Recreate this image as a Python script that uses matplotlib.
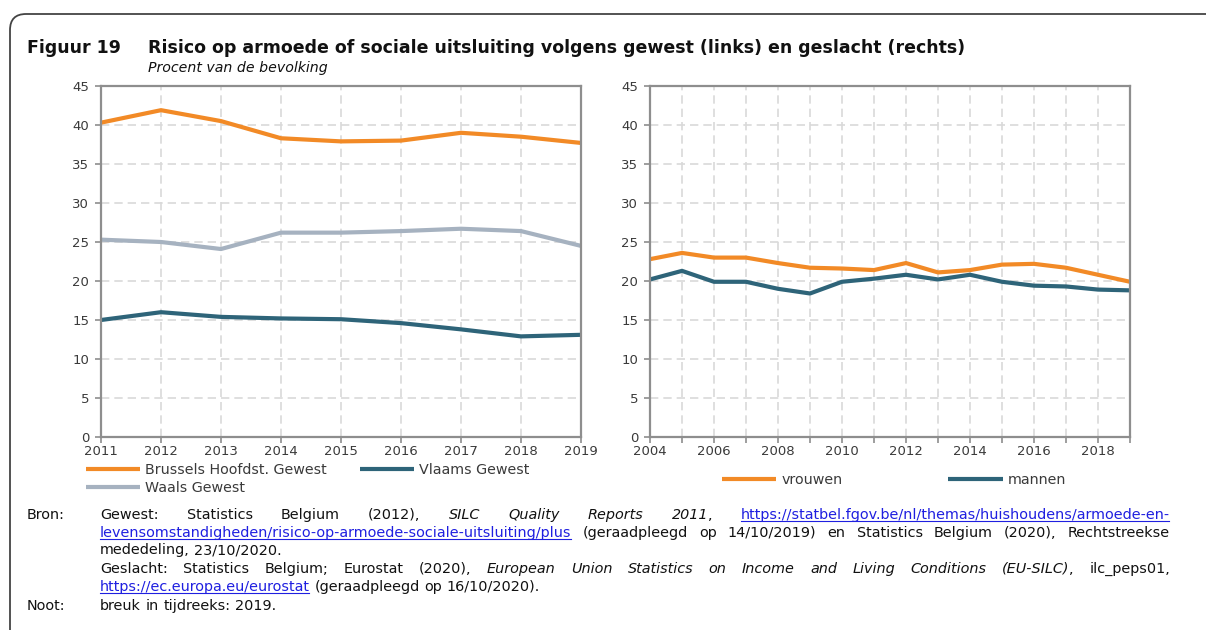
import matplotlib
matplotlib.use('Agg')
import matplotlib.pyplot as plt
from matplotlib.lines import Line2D
from matplotlib.patches import FancyBboxPatch
from matplotlib.transforms import IdentityTransform

# data
years_gewest = [2011, 2012, 2013, 2014, 2015, 2016, 2017, 2018, 2019]
brussel = [40.3, 41.9, 40.5, 38.3, 37.9, 38.0, 39.0, 38.5, 37.7]
vlaanderen = [15.0, 16.0, 15.4, 15.2, 15.1, 14.6, 13.8, 12.9, 13.1]
wallonie = [25.3, 25.0, 24.1, 26.2, 26.2, 26.4, 26.7, 26.4, 24.5]

years_geslacht = list(range(2004, 2020))
vrouwen = [22.8, 23.6, 23.0, 23.0, 22.3, 21.7, 21.6, 21.4, 22.3, 21.1,
           21.4, 22.1, 22.2, 21.7, 20.8, 19.9]
mannen = [20.2, 21.3, 19.9, 19.9, 19.0, 18.4, 19.9, 20.3, 20.8, 20.2,
          20.8, 19.9, 19.4, 19.3, 18.9, 18.8]

yticks = [0, 5, 10, 15, 20, 25, 30, 35, 40, 45]

ORANGE = '#F28A26'
TEAL = '#2E6479'
GREY = '#A6B2C0'
LINK = '#1F1FE0'
TXT = '#3A3A3A'

W, H = 1206, 630
plt.rcParams['font.family'] = 'DejaVu Sans'

fig = plt.figure(figsize=(W / 100, H / 100), dpi=100)
PIX = IdentityTransform()


def fx(x):
    return x / W


def fy(y):
    return 1 - y / H


def style_axes(ax):
    ax.set_ylim(0, 45)
    ax.set_yticks(yticks)
    for s in ax.spines.values():
        s.set_color('#8E8E8E')
        s.set_linewidth(1.6)
    ax.tick_params(which='both', direction='out', length=4, width=1.2,
                   color='#8E8E8E', labelsize=9.5, labelcolor=TXT)
    ax.tick_params(axis='x', which='both', pad=1.5)
    ax.tick_params(axis='y', pad=4.5)
    ax.grid(True, which='both', color='#D9D9D9', lw=1.2, ls=(0, (5, 3)))
    ax.set_axisbelow(True)


# left panel: per gewest
ax1 = fig.add_axes([fx(101), fy(437), 480 / W, (437 - 86) / H])
l_bru, = ax1.plot(years_gewest, brussel, color=ORANGE, lw=3,
                  solid_capstyle='butt', label='Brussels Hoofdst. Gewest')
l_vla, = ax1.plot(years_gewest, vlaanderen, color=TEAL, lw=3,
                  solid_capstyle='butt', label='Vlaams Gewest')
l_wal, = ax1.plot(years_gewest, wallonie, color=GREY, lw=3,
                  solid_capstyle='butt', label='Waals Gewest')
ax1.set_xlim(2011, 2019)
ax1.set_xticks(years_gewest)
style_axes(ax1)

# right panel: per geslacht
ax2 = fig.add_axes([fx(650), fy(437), 480 / W, (437 - 86) / H])
l_vr, = ax2.plot(years_geslacht, vrouwen, color=ORANGE, lw=3,
                 solid_capstyle='butt', label='vrouwen')
l_ma, = ax2.plot(years_geslacht, mannen, color=TEAL, lw=3,
                 solid_capstyle='butt', label='mannen')
ax2.set_xlim(2004, 2019)
ax2.set_xticks(years_geslacht[::2])
ax2.set_xticks(years_geslacht, minor=True)
style_axes(ax2)

# legends (waals in second slot so it lands on the second row)
fig.legend(handles=[l_bru, l_wal, l_vla], ncol=2, loc='upper left',
           bbox_to_anchor=(fx(86), fy(463)), frameon=False, fontsize=10.3,
           handlelength=3.8, handletextpad=0.35, columnspacing=2.3,
           labelspacing=0.25, borderpad=0, borderaxespad=0,
           labelcolor=TXT)
fig.legend(handles=[l_vr, l_ma], ncol=2, loc='upper left',
           bbox_to_anchor=(fx(722), fy(473)), frameon=False, fontsize=10.3,
           handlelength=3.8, handletextpad=0.35, columnspacing=7.4,
           borderpad=0, borderaxespad=0, labelcolor=TXT)

# titles
fig.text(fx(27), fy(53), 'Figuur 19', fontsize=12.5, fontweight='bold',
         va='baseline', color='#111111')
fig.text(fx(148), fy(53),
         'Risico op armoede of sociale uitsluiting volgens gewest (links) en geslacht (rechts)',
         fontsize=12.55, fontweight='bold', va='baseline', color='#111111')
fig.text(fx(148), fy(72), 'Procent van de bevolking', fontsize=10.2,
         style='italic', va='baseline', color='#111111')

# border with rounded corner
box = FancyBboxPatch((10, -60), 1300, H - 14 + 60, transform=PIX,
                     boxstyle='round,pad=0,rounding_size=16',
                     fc='none', ec='#444444', lw=1.3)
fig.add_artist(box)

# footer: source text, partly justified
FOOT_FS = 10.4
renderer = fig.canvas.get_renderer()


def piece(txt, st):
    kw = dict(fontsize=FOOT_FS, va='baseline', ha='left', transform=PIX,
              color='#111111')
    if st == 'i':
        kw['style'] = 'italic'
    if st == 'u':
        kw['color'] = LINK
    t = fig.text(0, 0, txt, **kw)
    return t, t.get_window_extent(renderer).width, st


def footer_line(words, y, x0=100, x1=1170, justify=True):
    yb = H - y
    built = [[piece(txt, st) for txt, st in w] for w in words]
    widths = [sum(p[1] for p in w) for w in built]
    if justify and len(built) > 1:
        gap = (x1 - x0 - sum(widths)) / (len(built) - 1)
    else:
        gap = 4.5
    x = x0
    for w, ww in zip(built, widths):
        for t, pw, st in w:
            t.set_position((x, yb))
            if st == 'u':
                fig.add_artist(Line2D([x, x + pw - 1], [yb - 2, yb - 2],
                                      transform=PIX, color=LINK, lw=0.8))
            x += pw
        x += gap


def words_of(text, st):
    return [[(w, st)] for w in text.split()]


fig.text(27, H - 519, 'Bron:', fontsize=FOOT_FS, va='baseline',
         transform=PIX, color='#111111')
fig.text(27, H - 610, 'Noot:', fontsize=FOOT_FS, va='baseline',
         transform=PIX, color='#111111')

footer_line(words_of('Gewest: Statistics Belgium (2012),', 'n')
            + words_of('SILC Quality Reports', 'i')
            + [[('2011', 'i'), (',', 'n')]]
            + [[('https://statbel.fgov.be/nl/themas/huishoudens/armoede-en-', 'u')]],
            519)
footer_line([[('levensomstandigheden/risico-op-armoede-sociale-uitsluiting/plus', 'u')]]
            + words_of('(geraadpleegd op 14/10/2019) en Statistics Belgium (2020), Rechtstreekse', 'n'),
            537)
footer_line(words_of('mededeling, 23/10/2020.', 'n'), 554, justify=False)
footer_line(words_of('Geslacht: Statistics Belgium; Eurostat (2020),', 'n')
            + words_of('European Union Statistics on Income and Living Conditions', 'i')
            + [[('(EU-SILC)', 'i'), (',', 'n')]]
            + words_of('ilc_peps01,', 'n'),
            573)
footer_line([[('https://ec.europa.eu/eurostat', 'u')]]
            + words_of('(geraadpleegd op 16/10/2020).', 'n'),
            591, justify=False)
footer_line(words_of('breuk in tijdreeks: 2019.', 'n'), 610, justify=False)

fig.savefig('out.png', dpi=100)
